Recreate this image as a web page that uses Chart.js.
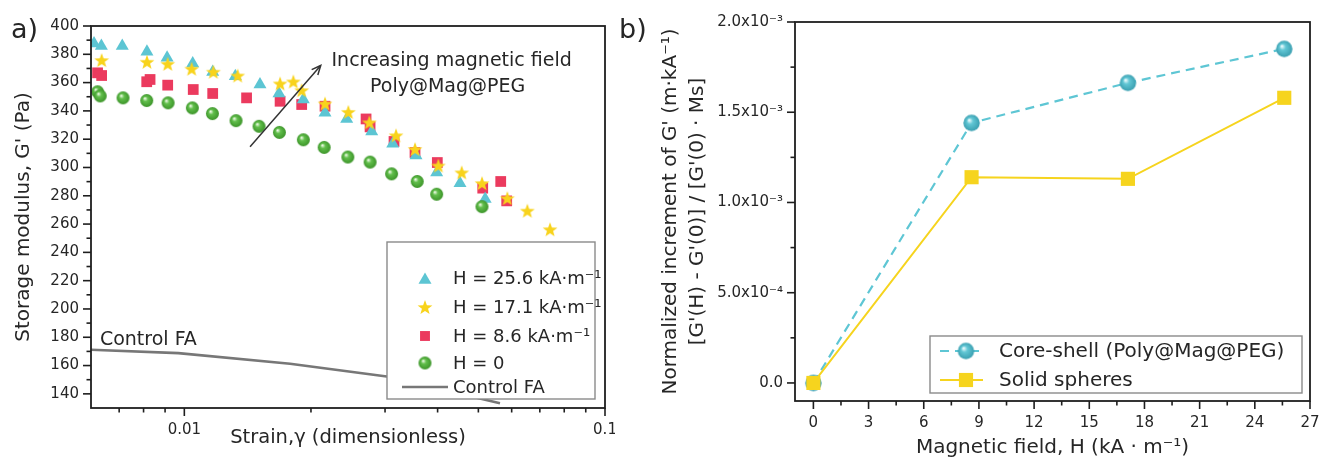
<!DOCTYPE html>
<html><head><meta charset="utf-8">
<script src="https://cdn.jsdelivr.net/npm/chart.js@4.4.1/dist/chart.umd.min.js"></script>
<style>
html,body{margin:0;padding:0;background:#fff;}
body{width:1320px;height:464px;position:relative;overflow:hidden;}
canvas{position:absolute;top:0;}
#ca{left:0;} #cb{left:615px;}
</style></head><body>
<canvas id="ca" width="615" height="464"></canvas>
<canvas id="cb" width="705" height="464"></canvas>
<script>
// ---------------- Panel a data ----------------
const seriesNamesA = ['H = 25.6 kA\u00b7m\u207b\u00b9', 'H = 17.1 kA\u00b7m\u207b\u00b9', 'H = 8.6 kA\u00b7m\u207b\u00b9', 'H = 0', 'Control FA'];
const strain256 = [0.0061, 0.00635, 0.00712, 0.00815, 0.0091, 0.01047, 0.01168, 0.01322, 0.01513, 0.01679, 0.01918, 0.0216, 0.02432, 0.02789, 0.03129, 0.03554, 0.0398, 0.04522, 0.0519];
const g256 = [387.7, 385.8, 385.8, 381.8, 377.6, 373.5, 367.4, 364.5, 358.7, 352.3, 348.0, 338.6, 334.3, 325.5, 316.8, 308.5, 296.5, 288.9, 277.8];
const strain171 = [0.00636, 0.00815, 0.00913, 0.01041, 0.01172, 0.01339, 0.01689, 0.01816, 0.01901, 0.0216, 0.02454, 0.02753, 0.03186, 0.03535, 0.04016, 0.04564, 0.05101, 0.05859, 0.06537, 0.07401];
const g171 = [375.9, 374.7, 373.3, 369.8, 367.7, 365.0, 359.4, 360.8, 354.6, 345.2, 339.3, 331.9, 322.7, 313.0, 301.4, 296.5, 288.9, 278.3, 269.5, 256.3];
const strain86 = [0.00622, 0.00636, 0.00814, 0.00829, 0.00913, 0.0105, 0.01168, 0.01406, 0.01689, 0.01901, 0.0216, 0.02704, 0.02764, 0.03151, 0.03535, 0.03994, 0.05121, 0.05651, 0.05839];
const g86 = [366.9, 365.0, 360.6, 362.2, 358.2, 355.1, 352.3, 349.2, 346.8, 344.5, 343.3, 334.3, 328.7, 318.4, 310.6, 303.5, 285.4, 290.1, 276.4];
const strain0 = [0.00622, 0.00631, 0.00715, 0.00814, 0.00915, 0.01045, 0.01166, 0.01327, 0.01505, 0.01683, 0.01918, 0.0215, 0.02447, 0.02764, 0.0311, 0.03578, 0.0398, 0.0510];
const g0 = [353.5, 350.6, 349.2, 347.3, 345.7, 342.1, 338.1, 333.1, 329.1, 324.8, 319.6, 314.2, 307.4, 303.8, 295.5, 290.1, 281.1, 272.3];
const strainControl = [0.006, 0.00968, 0.01784, 0.03028, 0.05628];
const gControl = [171.2, 168.8, 161.3, 152.3, 133.3];
const strainMajorTicks = [0.01, 0.1];
const strainMajorLabels = ['0.01', '0.1'];
const strainMinorTicks = [0.007, 0.008, 0.009, 0.02, 0.03, 0.04, 0.05, 0.06, 0.07, 0.08, 0.09];
const gMajorTicks = [140, 160, 180, 200, 220, 240, 260, 280, 300, 320, 340, 360, 380, 400];
const gMinorTicks = [150, 170, 190, 210, 230, 250, 270, 290, 310, 330, 350, 370, 390];

// ---------------- Panel b data ----------------
const seriesNamesB = ['Core-shell (Poly@Mag@PEG)', 'Solid spheres'];
const fieldH = [0, 8.6, 17.1, 25.6];
const incCoreShell = [0, 1.441e-3, 1.663e-3, 1.851e-3];
const incSolid = [0, 1.140e-3, 1.131e-3, 1.580e-3];
const fieldMajorTicks = [0, 3, 6, 9, 12, 15, 18, 21, 24, 27];
const fieldMinorTicks = [1.5, 4.5, 7.5, 10.5, 13.5, 16.5, 19.5, 22.5, 25.5];
const incMajorTicks = [0, 0.0005, 0.001, 0.0015, 0.002];
const incMajorLabels = ['0.0', '5.0x10\u207b\u2074', '1.0x10\u207b\u00b3', '1.5x10\u207b\u00b3', '2.0x10\u207b\u00b3'];
const incMinorTicks = [0.00025, 0.00075, 0.00125, 0.00175];

// ---------------- helpers ----------------
const FONT = "'DejaVu Sans', sans-serif";
const TXT = '#262626';
function pts(xs, ys) { return xs.map((x, i) => ({x: x, y: ys[i]})); }
function makeStar(color, R, r) {
  const s = Math.ceil(2 * R) + 2, c = document.createElement('canvas');
  c.width = s; c.height = s;
  const g = c.getContext('2d'); const cx = s / 2, cy = s / 2 + 0.8;
  g.beginPath();
  for (let i = 0; i < 10; i++) {
    const a = -Math.PI / 2 + i * Math.PI / 5, rr = i % 2 ? r : R;
    const px = cx + rr * Math.cos(a), py = cy + rr * Math.sin(a);
    i ? g.lineTo(px, py) : g.moveTo(px, py);
  }
  g.closePath(); g.fillStyle = color; g.fill();
  return c;
}
function makeSphere(light, base, dark, R) {
  const s = Math.ceil(2 * R) + 2, c = document.createElement('canvas');
  c.width = s; c.height = s;
  const g = c.getContext('2d'); const cx = s / 2, cy = s / 2;
  const gr = g.createRadialGradient(cx - R * 0.3, cy - R * 0.35, R * 0.05, cx, cy, R);
  gr.addColorStop(0, light); gr.addColorStop(0.35, base); gr.addColorStop(1, dark);
  g.beginPath(); g.arc(cx, cy, R, 0, Math.PI * 2); g.fillStyle = gr; g.fill();
  return c;
}
function tickBuilder(major, minor) {
  return function (scale) {
    const all = major.map(v => ({value: v, major: true})).concat(minor.map(v => ({value: v, major: false})));
    all.sort((a, b) => a.value - b.value);
    scale.ticks = all;
  };
}
function labelFor(major, labels) {
  return function (value) {
    for (let i = 0; i < major.length; i++) {
      if (Math.abs(major[i] - value) <= Math.abs(major[i]) * 1e-9 + 1e-15) return labels ? labels[i] : String(major[i]);
    }
    return '';
  };
}
function fixFit(w, h) {
  return function (scale) {
    if (w != null) scale.width = w;
    if (h != null) scale.height = h;
    scale.paddingLeft = 0; scale.paddingRight = 0; scale.paddingTop = 0; scale.paddingBottom = 0;
  };
}
const axisFrame = {
  id: 'axisFrame',
  afterDatasetsDraw(chart) {
    const ctx = chart.ctx, a = chart.chartArea;
    ctx.save();
    ctx.strokeStyle = '#1e1e1e'; ctx.lineWidth = 1.8;
    ctx.strokeRect(a.left, a.top, a.right - a.left, a.bottom - a.top);
    ctx.lineWidth = 1.6;
    const xs = chart.scales.x, ys = chart.scales.y;
    xs.ticks.forEach(t => {
      const p = xs.getPixelForValue(t.value); const L = t.major ? 8 : 4.5;
      if (p < a.left + 1 || p > a.right + 1) return;
      ctx.beginPath(); ctx.moveTo(p, a.bottom); ctx.lineTo(p, a.bottom + L); ctx.stroke();
    });
    ys.ticks.forEach(t => {
      const p = ys.getPixelForValue(t.value); const L = t.major ? 8 : 4.5;
      if (p < a.top - 1 || p > a.bottom - 1) return;
      ctx.beginPath(); ctx.moveTo(a.left, p); ctx.lineTo(a.left - L, p); ctx.stroke();
    });
    ctx.restore();
  }
};
function tickFont() { return {family: FONT, size: 15}; }
function titleFont(sz) { return {family: FONT, size: sz || 20}; }

// ---------------- Panel a ----------------
const starImg = makeStar('#F8D31C', 7.8, 3.2);
const greenSphere = makeSphere('#f2fbe9', '#62bf4c', '#3c9429', 6.5);
const cyan = '#5CC5D3', red = '#EB3A5E', gray = '#777777';

const dsA = [
  {label: seriesNamesA[1], data: pts(strain171, g171), pointStyle: starImg, radius: 7, backgroundColor: '#F8D31C', borderWidth: 0, order: 1, showLine: false},
  {label: seriesNamesA[3], data: pts(strain0, g0), pointStyle: greenSphere, radius: 6.5, backgroundColor: '#62bf4c', borderWidth: 0, order: 2, showLine: false},
  {label: seriesNamesA[0], data: pts(strain256, g256), pointStyle: 'triangle', radius: 7.5, backgroundColor: cyan, borderColor: cyan, borderWidth: 0, order: 3, showLine: false},
  {label: seriesNamesA[2], data: pts(strain86, g86), pointStyle: 'rect', radius: 7.6, backgroundColor: red, borderColor: red, borderWidth: 0, order: 4, showLine: false},
  {label: seriesNamesA[4], data: pts(strainControl, gControl), showLine: true, pointRadius: 0, borderColor: gray, borderWidth: 2.6, backgroundColor: gray, order: 5, tension: 0}
];

const annotA = {
  id: 'annotA',
  afterDraw(chart) {
    const ctx = chart.ctx, a = chart.chartArea, xs = chart.scales.x, ys = chart.scales.y;
    ctx.save();
    // arrow (data coords)
    const x0 = xs.getPixelForValue(0.01433), y0 = ys.getPixelForValue(314.7);
    const x1 = xs.getPixelForValue(0.0211), y1 = ys.getPixelForValue(372.1);
    ctx.strokeStyle = '#333'; ctx.lineWidth = 1.5;
    ctx.beginPath(); ctx.moveTo(x0, y0); ctx.lineTo(x1, y1); ctx.stroke();
    const ang = Math.atan2(y1 - y0, x1 - x0), hl = 10, ha = 0.42;
    ctx.beginPath();
    ctx.moveTo(x1 - hl * Math.cos(ang - ha), y1 - hl * Math.sin(ang - ha));
    ctx.lineTo(x1, y1);
    ctx.lineTo(x1 - hl * Math.cos(ang + ha), y1 - hl * Math.sin(ang + ha));
    ctx.stroke();
    // texts
    ctx.fillStyle = TXT; ctx.textBaseline = 'alphabetic';
    ctx.font = '19px ' + FONT; ctx.textAlign = 'center';
    const cx = xs.getPixelForValue(0.0432);
    ctx.fillText('Increasing magnetic field', cx, ys.getPixelForValue(371.6));
    ctx.fillText('Poly@Mag@PEG', cx - 4, ys.getPixelForValue(353.2));
    ctx.textAlign = 'left';
    ctx.fillText('Control FA', xs.getPixelForValue(0.0063), ys.getPixelForValue(174.3));
    // panel label
    ctx.font = '27px ' + FONT;
    ctx.fillText('a)', 11, 38);
    // legend
    const bx = a.right - 218, by = a.bottom - 166, bw = 208, bh = 157;
    ctx.fillStyle = '#fff'; ctx.fillRect(bx, by, bw, bh);
    ctx.strokeStyle = '#8a8a8a'; ctx.lineWidth = 1.4; ctx.strokeRect(bx, by, bw, bh);
    const rows = [
      {ds: dsA[2], dy: 36}, {ds: dsA[0], dy: 65}, {ds: dsA[3], dy: 94}, {ds: dsA[1], dy: 121}, {ds: dsA[4], dy: 145, line: true}
    ];
    ctx.font = '18px ' + FONT; ctx.textBaseline = 'middle';
    rows.forEach(r => {
      const y = by + r.dy;
      if (r.line) {
        ctx.strokeStyle = r.ds.borderColor; ctx.lineWidth = r.ds.borderWidth;
        ctx.beginPath(); ctx.moveTo(bx + 15, y); ctx.lineTo(bx + 61, y); ctx.stroke();
      } else {
        ctx.fillStyle = r.ds.backgroundColor;
        Chart.helpers.drawPoint(ctx, {pointStyle: r.ds.pointStyle, radius: r.ds.pointStyle === 'rect' ? 7 : r.ds.radius, rotation: 0, borderWidth: 0}, bx + 38, y + (r.ds.pointStyle === 'triangle' ? 2 : 0));
      }
      ctx.fillStyle = TXT;
      ctx.fillText(r.ds.label, bx + 66, y + 1);
    });
    ctx.restore();
  }
};

new Chart(document.getElementById('ca'), {
  type: 'scatter',
  data: {datasets: dsA},
  options: {
    responsive: false, animation: false, devicePixelRatio: 1,
    layout: {padding: {top: 26, right: 10, left: 0, bottom: 0}},
    plugins: {legend: {display: false}, tooltip: {enabled: false}},
    scales: {
      x: {
        type: 'logarithmic', min: 0.006, max: 0.1,
        afterBuildTicks: tickBuilder(strainMajorTicks, strainMinorTicks),
        afterFit: fixFit(null, 56),
        grid: {display: true, drawOnChartArea: false, drawTicks: false},
        border: {display: false},
        ticks: {callback: labelFor(strainMajorTicks, strainMajorLabels), autoSkip: false, maxRotation: 0, padding: 13, font: tickFont(), color: TXT},
        title: {display: true, text: 'Strain,\u03b3 (dimensionless)', font: titleFont(19.5), color: TXT, padding: {top: 0, bottom: 14}}
      },
      y: {
        min: 130, max: 400,
        afterBuildTicks: tickBuilder(gMajorTicks, gMinorTicks),
        afterFit: fixFit(91, null),
        grid: {display: true, drawOnChartArea: false, drawTicks: false},
        border: {display: false},
        ticks: {callback: labelFor(gMajorTicks), autoSkip: false, padding: 12, font: tickFont(), color: TXT},
        title: {display: true, text: "Storage modulus, G' (Pa)", font: titleFont(20), color: TXT, padding: {top: 12, bottom: 0}}
      }
    }
  },
  plugins: [axisFrame, annotA]
});

// ---------------- Panel b ----------------
const cyanSphere = makeSphere('#effcfe', '#62c7d5', '#3a9fb0', 8.2);
const yellowB = '#F6D41E', cyanB = '#5EC6D4';
const dsB = [
  {label: seriesNamesB[1], data: pts(fieldH, incSolid), showLine: true, borderColor: yellowB, borderWidth: 2, backgroundColor: yellowB, pointStyle: 'rect', pointRadius: 10, pointBorderWidth: 0, order: 1, tension: 0},
  {label: seriesNamesB[0], data: pts(fieldH, incCoreShell), showLine: true, borderColor: cyanB, borderWidth: 2.2, borderDash: [9, 6], backgroundColor: cyanB, pointStyle: cyanSphere, pointRadius: 8, pointBorderWidth: 0, order: 2, tension: 0}
];
const annotB = {
  id: 'annotB',
  afterDraw(chart) {
    const ctx = chart.ctx, a = chart.chartArea;
    ctx.save();
    ctx.fillStyle = TXT; ctx.font = '27px ' + FONT; ctx.textBaseline = 'alphabetic'; ctx.textAlign = 'left';
    ctx.fillText('b)', 4, 38);
    const bw = 372, bh = 57, bx = a.right - 8 - bw, by = a.bottom - 8 - bh;
    ctx.fillStyle = '#fff'; ctx.fillRect(bx, by, bw, bh);
    ctx.strokeStyle = '#8a8a8a'; ctx.lineWidth = 1.4; ctx.strokeRect(bx, by, bw, bh);
    const rows = [{ds: dsB[1], dy: 15}, {ds: dsB[0], dy: 44}];
    ctx.font = '20px ' + FONT; ctx.textBaseline = 'middle';
    rows.forEach(r => {
      const y = by + r.dy;
      ctx.strokeStyle = r.ds.borderColor; ctx.lineWidth = r.ds.borderWidth;
      ctx.setLineDash(r.ds.borderDash || []);
      ctx.beginPath(); ctx.moveTo(bx + 10, y); ctx.lineTo(bx + 53, y); ctx.stroke();
      ctx.setLineDash([]);
      ctx.fillStyle = r.ds.backgroundColor;
      Chart.helpers.drawPoint(ctx, {pointStyle: r.ds.pointStyle, radius: r.ds.pointRadius, rotation: 0, borderWidth: 0}, bx + 36, y);
      ctx.fillStyle = TXT;
      ctx.fillText(r.ds.label, bx + 69, y + 1);
    });
    ctx.restore();
  }
};
new Chart(document.getElementById('cb'), {
  type: 'scatter',
  data: {datasets: dsB},
  options: {
    responsive: false, animation: false, devicePixelRatio: 1,
    layout: {padding: {top: 22, right: 10, left: 0, bottom: 0}},
    plugins: {legend: {display: false}, tooltip: {enabled: false}},
    scales: {
      x: {
        type: 'linear', min: -1, max: 27,
        afterBuildTicks: tickBuilder(fieldMajorTicks, fieldMinorTicks),
        afterFit: fixFit(null, 63),
        grid: {display: true, drawOnChartArea: false, drawTicks: false},
        border: {display: false},
        ticks: {callback: labelFor(fieldMajorTicks), autoSkip: false, maxRotation: 0, padding: 13, font: tickFont(), color: TXT},
        title: {display: true, text: 'Magnetic field, H (kA \u00b7 m\u207b\u00b9)', font: titleFont(20), color: TXT, padding: {top: 0, bottom: 4}}
      },
      y: {
        min: -0.0001, max: 0.002,
        afterBuildTicks: tickBuilder(incMajorTicks, incMinorTicks),
        afterFit: fixFit(180, null),
        grid: {display: true, drawOnChartArea: false, drawTicks: false},
        border: {display: false},
        ticks: {callback: labelFor(incMajorTicks, incMajorLabels), autoSkip: false, padding: 12, font: tickFont(), color: TXT},
        title: {display: true, text: ["Normalized increment of G' (m\u00b7kA\u207b\u00b9)", "[G'(H) - G'(0)] / [G'(0) \u00b7 Ms]"], font: {family: FONT, size: 20, lineHeight: 1.35}, color: TXT, padding: {top: 42.5, bottom: 0}}
      }
    }
  },
  plugins: [axisFrame, annotB]
});
</script>
</body></html>
